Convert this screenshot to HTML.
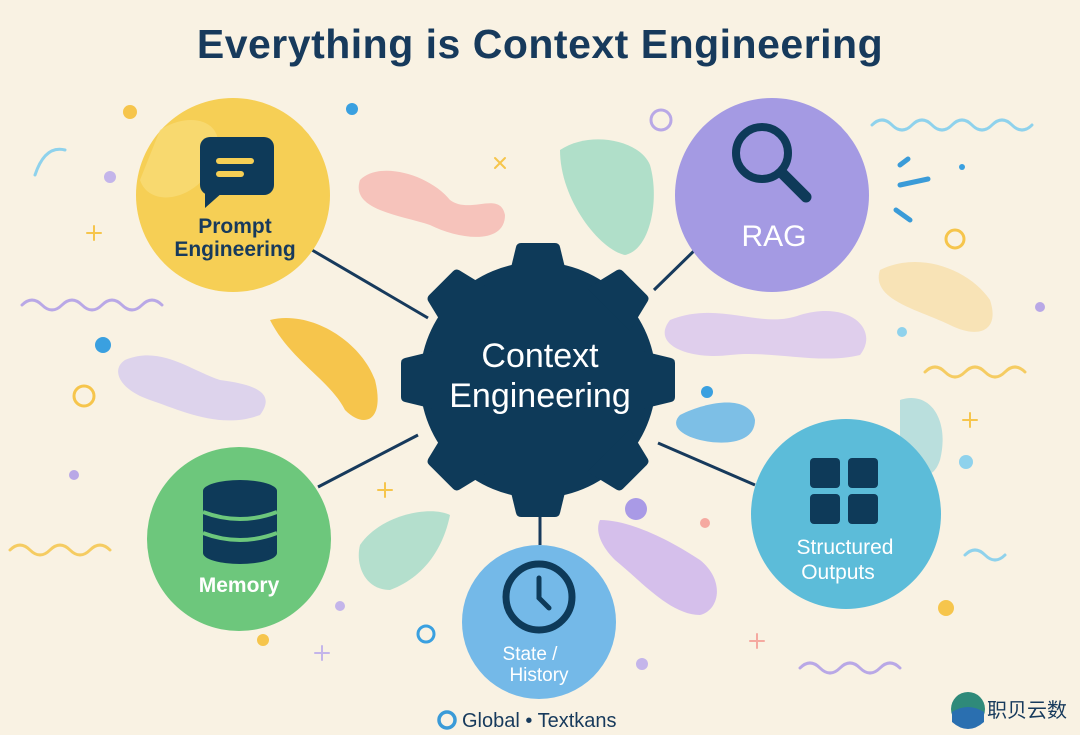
<!DOCTYPE html>
<html><head><meta charset="utf-8"><style>
body{margin:0;background:#f9f2e3;}
svg{display:block;font-family:"Liberation Sans","Noto Sans CJK SC",sans-serif;}
</style></head><body>
<svg width="1080" height="735" viewBox="0 0 1080 735">
<rect width="1080" height="735" fill="#f9f2e3"/>
<text x="540" y="58" text-anchor="middle" font-size="41" font-weight="bold" fill="#173a5c" letter-spacing="0.5">Everything is Context Engineering</text>
<!-- decorative blobs -->
<path d="M360 180 C380 160 430 175 450 200 C470 215 500 190 505 215 C505 245 460 240 430 225 C400 215 350 210 360 180Z" fill="#f5b7b0" opacity="0.8"/>
<path d="M560 150 C590 130 640 140 650 165 C660 200 650 250 625 255 C600 250 560 200 560 150Z" fill="#a3dcc4" opacity="0.85"/>
<path d="M270 320 C310 310 360 340 375 380 C385 420 365 430 345 410 C330 380 290 360 270 320Z" fill="#f6c54c"/>
<path d="M125 360 C160 345 190 370 220 380 C260 385 275 395 260 415 C220 430 180 410 150 400 C120 390 110 370 125 360Z" fill="#d6cbee" opacity="0.8"/>
<path d="M670 320 C720 300 760 330 800 315 C850 300 880 330 860 355 C820 365 770 350 730 355 C690 360 650 345 670 320Z" fill="#d8c4ee" opacity="0.8"/>
<path d="M880 270 C920 250 970 270 990 300 C1000 330 980 340 950 325 C920 310 870 300 880 270Z" fill="#f7dfaa" opacity="0.8"/>
<path d="M680 415 C710 400 750 395 755 420 C755 445 720 445 700 440 C680 435 670 425 680 415Z" fill="#7dbfe6"/>
<path d="M360 545 C380 515 430 505 450 515 C445 540 430 575 390 590 C365 590 355 565 360 545Z" fill="#a8dcc9" opacity="0.85"/>
<path d="M600 520 C630 520 670 540 700 560 C725 580 720 610 700 615 C670 615 640 580 615 560 C600 545 595 530 600 520Z" fill="#cfb6ec" opacity="0.85"/>
<path d="M900 400 C930 390 950 420 940 460 C930 490 905 470 900 440Z" fill="#8fd2d8" opacity="0.6"/>
<!-- squiggles -->
<g fill="none" stroke-width="3" stroke-linecap="round">
<path d="M22 305 q10 -10 20 0 t20 0 t20 0 t20 0 t20 0 t20 0 t20 0" stroke="#b9a8e6"/>
<path d="M872 125 q10 -10 20 0 t20 0 t20 0 t20 0 t20 0 t20 0 t20 0 t20 0" stroke="#8fd2ec"/>
<path d="M925 372 q10 -10 20 0 t20 0 t20 0 t20 0 t20 0" stroke="#f5cc62"/>
<path d="M10 550 q10 -10 20 0 t20 0 t20 0 t20 0 t20 0" stroke="#f5cc62"/>
<path d="M800 668 q10 -10 20 0 t20 0 t20 0 t20 0 t20 0" stroke="#b9a8e6"/>
<path d="M965 555 q10 -10 20 0 t20 0" stroke="#8fd2ec"/>
<path d="M35 175 q10 -30 30 -25" stroke="#8fd2ec"/>
<path d="M900 185 l28 -6 M896 210 l14 10 M900 165 l8 -6" stroke="#3a9bd8" stroke-width="5"/>
</g>
<!-- dots -->
<g>
<circle cx="130" cy="112" r="7" fill="#f6c54c"/><circle cx="352" cy="109" r="6" fill="#3aa0e0"/>
<circle cx="110" cy="177" r="6" fill="#c4b5ea"/><circle cx="103" cy="345" r="8" fill="#3aa0e0"/>
<circle cx="84" cy="396" r="10" fill="none" stroke="#f6c54c" stroke-width="3"/>
<circle cx="661" cy="120" r="10" fill="none" stroke="#b9a8e6" stroke-width="3"/>
<circle cx="955" cy="239" r="9" fill="none" stroke="#f6c54c" stroke-width="3"/>
<circle cx="426" cy="634" r="8" fill="none" stroke="#3aa0e0" stroke-width="3"/>
<circle cx="636" cy="509" r="11" fill="#a99ae6"/><circle cx="707" cy="392" r="6" fill="#3aa0e0"/>
<circle cx="966" cy="462" r="7" fill="#8fd2ec"/><circle cx="946" cy="608" r="8" fill="#f6c54c"/>
<circle cx="705" cy="523" r="5" fill="#f5a9a0"/><circle cx="340" cy="606" r="5" fill="#c4b5ea"/>
<circle cx="263" cy="640" r="6" fill="#f6c54c"/><circle cx="74" cy="475" r="5" fill="#b9a8e6"/>
<circle cx="1040" cy="307" r="5" fill="#b9a8e6"/><circle cx="902" cy="332" r="5" fill="#8fd2ec"/>
<circle cx="642" cy="664" r="6" fill="#c4b5ea"/><circle cx="962" cy="167" r="3" fill="#3aa0e0"/>
</g>
<g stroke-width="2" stroke-linecap="round">
<path d="M94 226v14M87 233h14" stroke="#f6c54c"/><path d="M385 483v14M378 490h14" stroke="#f6c54c"/>
<path d="M970 413v14M963 420h14" stroke="#f6c54c"/><path d="M322 646v14M315 653h14" stroke="#c4b5ea"/>
<path d="M757 634v14M750 641h14" stroke="#f5a9a0"/><path d="M495 158l10 10M505 158l-10 10" stroke="#f6c54c"/>
</g>
<!-- connectors -->
<g stroke="#173a5c" stroke-width="3">
<line x1="312" y1="250" x2="428" y2="318"/><line x1="654" y1="290" x2="700" y2="245"/>
<line x1="318" y1="487" x2="418" y2="435"/><line x1="540" y1="517" x2="540" y2="545"/>
<line x1="658" y1="443" x2="755" y2="485"/>
</g>
<!-- gear -->
<g fill="#0e3a59" transform="translate(538,380)">
<circle r="118"/>
<g id="t"><path d="M-30 -100 L-22 -133 Q-21 -137 -17 -137 L17 -137 Q21 -137 22 -133 L30 -100Z"/></g>
<use href="#t" transform="rotate(45)"/><use href="#t" transform="rotate(90)"/><use href="#t" transform="rotate(135)"/>
<use href="#t" transform="rotate(180)"/><use href="#t" transform="rotate(225)"/><use href="#t" transform="rotate(270)"/><use href="#t" transform="rotate(315)"/>
</g>
<text x="540" y="367" text-anchor="middle" font-size="34" fill="#fff">Context</text>
<text x="540" y="407" text-anchor="middle" font-size="34" fill="#fff">Engineering</text>
<!-- Prompt -->
<circle cx="233" cy="195" r="97" fill="#f6cf55"/>
<path d="M160 130 C190 110 230 120 215 160 C200 200 150 210 140 180Z" fill="#f9dd7a" opacity="0.7"/>
<rect x="200" y="137" width="74" height="58" rx="10" fill="#0e3a59"/><path d="M205 190 l0 18 l18 -16z" fill="#0e3a59"/>
<rect x="216" y="158" width="38" height="6" rx="3" fill="#f6cf55"/><rect x="216" y="171" width="28" height="6" rx="3" fill="#f6cf55"/>
<text x="235" y="233" text-anchor="middle" font-size="21" font-weight="bold" fill="#173a5c">Prompt</text>
<text x="235" y="256" text-anchor="middle" font-size="21" font-weight="bold" fill="#173a5c">Engineering</text>
<!-- RAG -->
<circle cx="772" cy="195" r="97" fill="#a49ae3"/>
<circle cx="762" cy="153" r="26" fill="none" stroke="#0e3a59" stroke-width="8"/>
<line x1="782" y1="173" x2="806" y2="197" stroke="#0e3a59" stroke-width="11" stroke-linecap="round"/>
<text x="774" y="246" text-anchor="middle" font-size="30" fill="#fff">RAG</text>
<!-- Memory -->
<circle cx="239" cy="539" r="92" fill="#6dc77c"/>
<g fill="#0e3a59"><ellipse cx="240" cy="491" rx="37" ry="11"/><rect x="203" y="491" width="74" height="62"/><ellipse cx="240" cy="553" rx="37" ry="11"/></g>
<g stroke="#6dc77c" stroke-width="4" fill="none"><path d="M203 512 q37 14 74 0"/><path d="M203 533 q37 14 74 0"/></g>
<text x="239" y="592" text-anchor="middle" font-size="21" font-weight="bold" fill="#fff">Memory</text>
<!-- State -->
<circle cx="539" cy="622" r="77" fill="#74b9e8"/>
<circle cx="539" cy="597" r="33" fill="none" stroke="#0e3a59" stroke-width="7"/>
<path d="M539 578v20l10 10" stroke="#0e3a59" stroke-width="5" fill="none" stroke-linecap="round"/>
<text x="530" y="660" text-anchor="middle" font-size="19" fill="#fff">State /</text>
<text x="539" y="681" text-anchor="middle" font-size="19" fill="#fff">History</text>
<!-- Structured -->
<circle cx="846" cy="514" r="95" fill="#5cbcd9"/>
<g fill="#0e3a59"><rect x="810" y="458" width="30" height="30" rx="4"/><rect x="848" y="458" width="30" height="30" rx="4"/><rect x="810" y="494" width="30" height="30" rx="4"/><rect x="848" y="494" width="30" height="30" rx="4"/></g>
<text x="845" y="554" text-anchor="middle" font-size="21" fill="#fff">Structured</text>
<text x="838" y="579" text-anchor="middle" font-size="21" fill="#fff">Outputs</text>
<!-- footer -->
<circle cx="447" cy="720" r="8" fill="none" stroke="#3a9bd8" stroke-width="3.5"/>
<text x="462" y="727" font-size="20" fill="#173a5c">Global • Textkans</text>
<circle cx="968" cy="709" r="17" fill="#2f8a7a"/><path d="M952 712 q16 -10 32 0 v10 q-16 14 -32 0z" fill="#2a6fb0"/>
<text x="987" y="717" font-size="20" fill="#173a5c" font-family="Noto Sans CJK SC,sans-serif">职贝云数</text>
</svg>
</body></html>
